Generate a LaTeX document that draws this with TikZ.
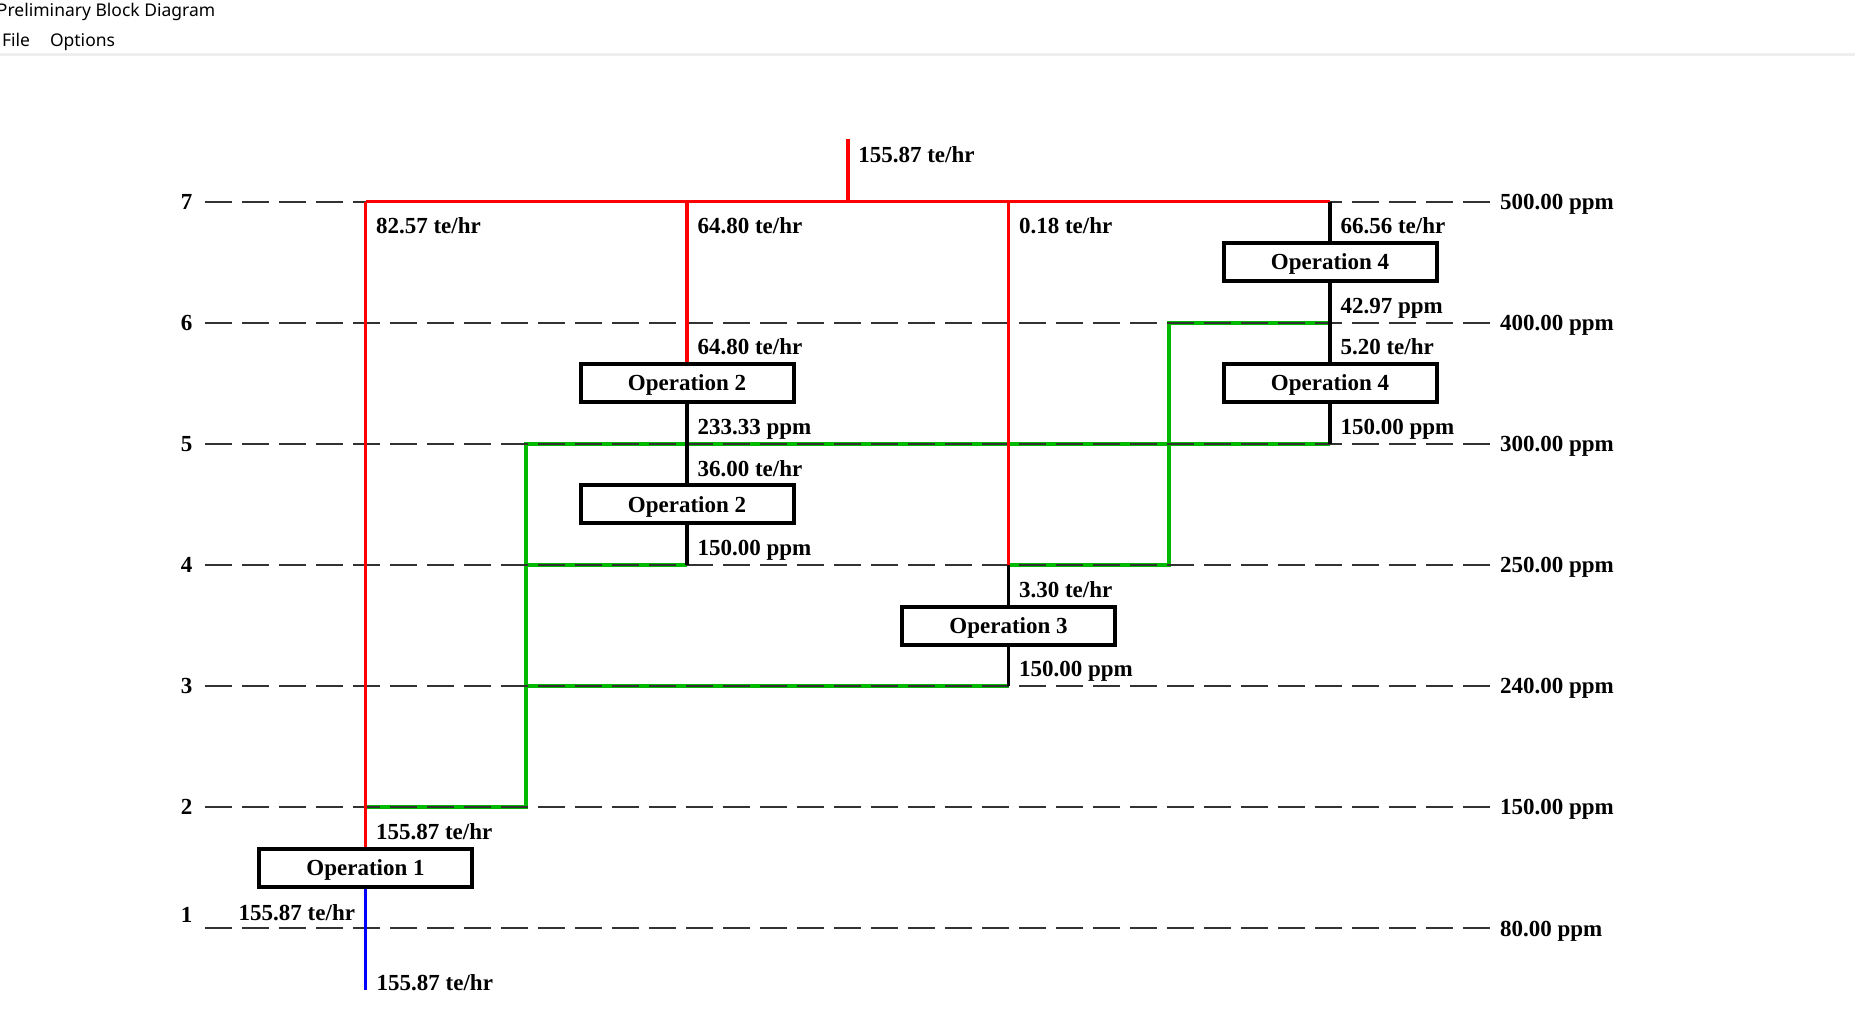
\documentclass[tikz,border=0pt]{standalone}
\usepackage{fontspec}
\setmainfont{Liberation Serif}
\newfontfamily\chromefont{Noto Sans}
\definecolor{pinchred}{RGB}{255,0,0}
\definecolor{pinchgreen}{RGB}{0,185,0}
\definecolor{pinchblue}{RGB}{0,0,255}
\definecolor{guidegray}{RGB}{50,50,50}
\definecolor{sepgray}{RGB}{238,238,238}
\begin{document}
\begin{tikzpicture}[x=1pt,y=-1pt,
  lbl/.style={inner sep=0pt,outer sep=0pt,font=\fontsize{23}{27}\selectfont\bfseries},
  chrome/.style={inner sep=0pt,outer sep=0pt,font=\chromefont\fontsize{17.5}{20}\selectfont},
  opbox/.style={draw=black,fill=white,line width=4pt,minimum width=213pt,minimum height=38pt,inner sep=0pt,text height=15.5pt,text depth=0pt,font=\fontsize{23}{27}\selectfont\bfseries},
  guide/.style={draw=guidegray,line width=2pt,dash pattern=on 27pt off 10pt},
  redline/.style={draw=pinchred,line width=3.5pt},
  blkline/.style={draw=black,line width=3.5pt},
  grnline/.style={draw=pinchgreen,line width=4pt,line join=miter},
  blueline/.style={draw=pinchblue,line width=3.5pt}
]
\fill[white] (0,0) rectangle (1855,1029);
\useasboundingbox (0,0) rectangle (1855,1029);

% window chrome
\node[chrome,anchor=base west] (title) at (-3,16) {Preliminary Block Diagram};
\node[chrome,anchor=base west] (mfile) at (2,46) {File};
\node[chrome,anchor=base west] (mopts) at (50,46) {Options};
\coordinate (sepA) at (0,54.5);
\coordinate (sepB) at (1855,54.5);
\draw[sepgray,line width=3pt] (sepA) -- (sepB);

% grid coordinates (columns C0..C3, half columns, levels L1..L7)
\coordinate (c0l7) at (365.5,201.5);
\coordinate (c1l7) at (687,201.5);
\coordinate (c2l7) at (1008.5,201.5);
\coordinate (c3l7) at (1330,201.5);
\coordinate (ftop) at (847.75,139);
\coordinate (fj) at (847.75,201.5);
\coordinate (c3l6) at (1330,322.6);
\coordinate (h23l6) at (1169.25,322.6);
\coordinate (c3l5) at (1330,443.8);
\coordinate (h01l5) at (526.25,443.8);
\coordinate (c1l4) at (687,564.9);
\coordinate (h01l4) at (526.25,564.9);
\coordinate (c2l4) at (1008.5,564.9);
\coordinate (h23l4) at (1169.25,564.9);
\coordinate (c2l3) at (1008.5,686.0);
\coordinate (h01l3) at (526.25,686.0);
\coordinate (c0l2) at (365.5,807.1);
\coordinate (h01l2) at (526.25,807.1);
\coordinate (bend) at (365.5,990);

% operation boxes
\node[opbox] (op1) at (365.5,867.7) {Operation 1};
\node[opbox] (op2a) at (687,383.2) {Operation 2};
\node[opbox] (op2b) at (687,504.3) {Operation 2};
\node[opbox] (op3) at (1008.5,625.5) {Operation 3};
\node[opbox] (op4a) at (1330,262.0) {Operation 4};
\node[opbox] (op4b) at (1330,383.2) {Operation 4};

% green lines
\draw[grnline] (c0l2) -- (h01l2) -- (h01l5) -- (c3l5);
\draw[grnline] (h01l4) -- (c1l4);
\draw[grnline] (h01l3) -- (c2l3);
\draw[grnline] (c2l4) -- (h23l4) -- (h23l6) -- (c3l6);

% level labels, guide lines, concentration labels
\foreach \n/\yy/\ppm in {7/201.5/500.00,6/322.6/400.00,5/443.8/300.00,4/564.9/250.00,3/686.0/240.00,2/807.1/150.00,1/928.3/80.00}{
  \coordinate (ga\n) at (205,\yy);
  \coordinate (gb\n) at (1490,\yy);
  \draw[guide] (ga\n) -- (gb\n);
  \node[lbl,anchor=base west] (ppm\n) at (1500,\yy+7.8) {\ppm\ ppm};
}
\foreach \n/\yy in {7/201.5,6/322.6,5/443.8,4/564.9,3/686.0,2/807.1,1/915}{
  \node[lbl,anchor=base] (lev\n) at (186.7,\yy+7.8) {\n};
}

% red lines
\draw[redline] (ftop) -- (fj);
\draw[redline] (c0l7) -- (c3l7);
\draw[redline] (c0l7) -- (op1.north);
\draw[redline] (c1l7) -- (op2a.north);
\draw[redline] (c2l7) -- (c2l4);

% black process lines
\draw[blkline] (c3l7) -- (op4a.north);
\draw[blkline] (op4a.south) -- (op4b.north);
\draw[blkline] (op4b.south) -- (c3l5);
\draw[blkline] (op2a.south) -- (op2b.north);
\draw[blkline] (op2b.south) -- (c1l4);
\draw[blkline] (c2l4) -- (op3.north);
\draw[blkline] (op3.south) -- (c2l3);

% blue line
\draw[blueline] (op1.south) -- (bend);

% stream labels
\node[lbl,anchor=base west] (tfeed) at (858.25,162.8) {155.87 te/hr};
\node[lbl,anchor=base west] (t1) at (376,233.8) {82.57 te/hr};
\node[lbl,anchor=base west] (t2) at (697.5,233.8) {64.80 te/hr};
\node[lbl,anchor=base west] (t3) at (1019,233.8) {0.18 te/hr};
\node[lbl,anchor=base west] (t4) at (1340.5,233.8) {66.56 te/hr};
\node[lbl,anchor=base west] (p4a) at (1340.5,313.4) {42.97 ppm};
\node[lbl,anchor=base west] (t5) at (697.5,354.9) {64.80 te/hr};
\node[lbl,anchor=base west] (t6) at (1340.5,354.9) {5.20 te/hr};
\node[lbl,anchor=base west] (p2a) at (697.5,434.6) {233.33 ppm};
\node[lbl,anchor=base west] (p4b) at (1340.5,434.6) {150.00 ppm};
\node[lbl,anchor=base west] (t7) at (697.5,476.1) {36.00 te/hr};
\node[lbl,anchor=base west] (p2b) at (697.5,555.7) {150.00 ppm};
\node[lbl,anchor=base west] (t8) at (1019,597.2) {3.30 te/hr};
\node[lbl,anchor=base west] (p3) at (1019,676.8) {150.00 ppm};
\node[lbl,anchor=base west] (t9) at (376,839.4) {155.87 te/hr};
\node[lbl,anchor=base east] (t10) at (355,920.8) {155.87 te/hr};
\node[lbl,anchor=base west] (t11) at (376.7,990.8) {155.87 te/hr};
\end{tikzpicture}
\end{document}
